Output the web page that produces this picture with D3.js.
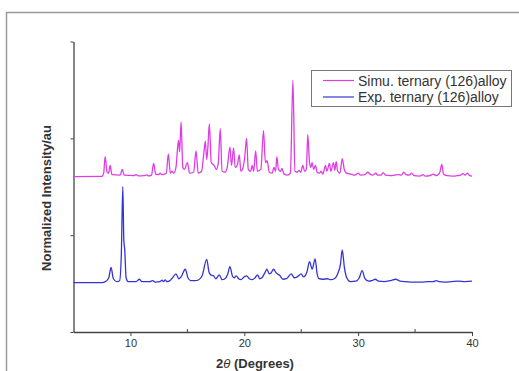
<!DOCTYPE html>
<html>
<head>
<meta charset="utf-8">
<script src="https://cdn.jsdelivr.net/npm/d3@7"></script>
<style>
  body { margin: 0; background: #fff; }
  #chart_id { width: 519px; height: 371px; }
  text { font-family: "Liberation Sans", Arial, sans-serif; fill: #333; }
</style>
</head>
<body>
<div id="chart_id"></div>
<script>
// series names
var seriesNames = ["Simu. ternary (126)alloy", "Exp. ternary (126)alloy"]
var seriesColors = ["#e03ce6", "#3434d4"]

// x tick labels
var xTicks = [10, 20, 30, 40]
var xMinorTicks = [15, 25, 35]
var yTicks = [0, 1, 2, 3]

// simulated pattern, [2theta, intensity]
var simuPattern = [[5,1.605],[7.5,1.607],[7.65,1.64],[7.78,1.81],[7.95,1.65],[8.08,1.64],[8.22,1.72],[8.38,1.625],[9.1,1.62],[9.28,1.68],[9.45,1.62],[10.3,1.615],[10.5,1.625],[10.7,1.612],[11.2,1.615],[11.4,1.622],[11.6,1.612],[11.85,1.62],[12.04,1.74],[12.22,1.63],[12.5,1.625],[12.6,1.64],[12.75,1.625],[13.15,1.64],[13.33,1.84],[13.5,1.64],[13.65,1.66],[13.8,1.64],[14.0,1.70],[14.22,1.98],[14.32,1.86],[14.45,2.17],[14.6,1.70],[14.75,1.68],[15.0,1.75],[15.2,1.64],[15.55,1.65],[15.76,1.87],[15.95,1.64],[16.25,1.66],[16.45,1.85],[16.58,1.97],[16.7,1.78],[16.8,1.90],[16.93,2.15],[17.1,1.75],[17.35,1.72],[17.55,1.68],[17.72,1.75],[17.89,2.10],[18.05,1.66],[18.3,1.65],[18.5,1.70],[18.74,1.91],[18.88,1.72],[19.06,1.90],[19.2,1.70],[19.38,1.72],[19.56,1.83],[19.7,1.66],[19.9,1.70],[20.05,1.82],[20.2,2.0],[20.35,1.68],[20.55,1.66],[20.7,1.72],[20.82,1.66],[21.0,1.87],[21.15,1.66],[21.45,1.68],[21.69,2.08],[21.85,1.75],[22.0,1.77],[22.2,1.65],[22.45,1.64],[22.6,1.70],[22.75,1.66],[22.86,1.81],[23.0,1.68],[23.2,1.66],[23.3,1.69],[23.5,1.63],[23.8,1.62],[24.05,1.64],[24.27,2.60],[24.45,1.66],[24.65,1.65],[24.8,1.67],[24.95,1.65],[25.14,1.72],[25.3,1.66],[25.45,1.68],[25.58,2.04],[25.72,1.76],[25.85,1.70],[25.95,1.75],[26.1,1.68],[26.25,1.72],[26.4,1.65],[26.6,1.64],[26.76,1.66],[26.9,1.63],[27.13,1.72],[27.25,1.66],[27.48,1.74],[27.6,1.66],[27.83,1.75],[27.95,1.67],[28.07,1.76],[28.2,1.66],[28.4,1.64],[28.6,1.79],[28.8,1.67],[29.0,1.64],[29.4,1.63],[29.7,1.62],[30.0,1.64],[30.2,1.62],[30.6,1.625],[30.85,1.65],[31.05,1.63],[31.3,1.62],[31.55,1.64],[31.7,1.62],[32.0,1.62],[32.2,1.645],[32.4,1.62],[32.8,1.615],[33.2,1.62],[33.5,1.625],[33.8,1.62],[34.0,1.65],[34.2,1.625],[34.5,1.62],[34.7,1.64],[34.9,1.615],[35.4,1.61],[35.7,1.625],[35.9,1.61],[36.3,1.615],[36.6,1.63],[36.85,1.615],[37.15,1.64],[37.35,1.73],[37.5,1.63],[37.8,1.615],[38.3,1.61],[38.7,1.615],[39.0,1.62],[39.2,1.635],[39.4,1.62],[39.6,1.64],[39.8,1.615],[40,1.61]]

// experimental pattern
var expPattern = [[5,0.51],[7.5,0.51],[7.8,0.52],[8.1,0.56],[8.3,0.668],[8.5,0.55],[8.8,0.52],[9.05,0.53],[9.2,0.8],[9.33,1.50],[9.42,0.95],[9.5,0.85],[9.62,0.56],[9.8,0.52],[10.5,0.52],[10.79,0.545],[11.0,0.52],[11.7,0.52],[11.96,0.53],[12.2,0.515],[12.6,0.52],[12.77,0.535],[12.9,0.52],[13.06,0.538],[13.2,0.52],[13.4,0.525],[13.7,0.56],[14.0,0.60],[14.25,0.55],[14.45,0.57],[14.82,0.648],[15.05,0.56],[15.3,0.53],[15.7,0.53],[16.0,0.54],[16.3,0.58],[16.7,0.75],[16.9,0.62],[17.05,0.59],[17.3,0.58],[17.5,0.55],[17.8,0.59],[18.05,0.54],[18.3,0.55],[18.55,0.6],[18.74,0.675],[18.95,0.58],[19.1,0.56],[19.3,0.58],[19.5,0.55],[19.7,0.54],[20.0,0.57],[20.2,0.58],[20.45,0.55],[20.7,0.54],[20.95,0.56],[21.17,0.59],[21.35,0.55],[21.55,0.56],[21.8,0.61],[21.98,0.648],[22.2,0.6],[22.35,0.61],[22.57,0.648],[22.8,0.61],[23.1,0.585],[23.4,0.545],[23.7,0.55],[24.12,0.60],[24.4,0.56],[24.65,0.57],[25.0,0.60],[25.2,0.57],[25.5,0.62],[25.73,0.726],[25.96,0.65],[26.22,0.754],[26.4,0.6],[26.55,0.55],[26.9,0.545],[27.3,0.55],[27.6,0.54],[27.9,0.55],[28.2,0.6],[28.45,0.7],[28.6,0.847],[28.8,0.66],[29.0,0.56],[29.3,0.52],[29.8,0.525],[30.1,0.56],[30.35,0.633],[30.6,0.55],[30.9,0.525],[31.2,0.53],[31.5,0.545],[31.8,0.525],[32.3,0.52],[32.8,0.53],[33.3,0.545],[33.7,0.525],[34.2,0.52],[34.8,0.515],[35.5,0.515],[36.2,0.52],[36.6,0.52],[36.85,0.53],[37.1,0.52],[37.6,0.515],[38.2,0.52],[38.8,0.525],[39.4,0.52],[40,0.525]]

var svg = d3.select("#chart_id").append("svg").attr("width", 519).attr("height", 371)

// outer frame of the figure
svg.append("rect").attr("x", 6.5).attr("y", 12.5).attr("width", 540).attr("height", 400)
    .attr("fill", "none").attr("stroke", "#9a9a9a").attr("stroke-width", 1.5)

var x = d3.scaleLinear().domain([5, 40]).range([73.5, 472])
var y = d3.scaleLinear().domain([0, 3]).range([332, 41.5])

// x axis: major ticks down, minor ticks up
var xAxis = svg.append("g").attr("transform", "translate(0,332)")
    .call(d3.axisBottom(x).tickValues(xTicks).tickSize(4).tickPadding(3).tickSizeOuter(0))
xAxis.select(".domain").attr("stroke", "#444").attr("stroke-width", 1.3)
xAxis.selectAll(".tick line").attr("stroke", "#444")
xAxis.selectAll("text").style("font-size", "11px").attr("fill", "#444")
xAxis.selectAll(".minor").data(xMinorTicks).enter().append("line")
    .attr("x1", d => x(d)).attr("x2", d => x(d)).attr("y1", 0).attr("y2", -3)
    .attr("stroke", "#444")

var yAxis = svg.append("g").attr("transform", "translate(73.5,0)")
    .call(d3.axisLeft(y).tickValues(yTicks).tickSize(3).tickFormat("").tickSizeOuter(0))
yAxis.select(".domain").attr("stroke", "#444").attr("stroke-width", 1.3)
yAxis.selectAll(".tick line").attr("stroke", "#444")

var line = d3.line().x(d => x(d[0])).y(d => y(d[1])).curve(d3.curveMonotoneX)

svg.append("path").datum(expPattern).attr("d", line)
    .attr("fill", "none").attr("stroke", seriesColors[1]).attr("stroke-width", 1.3)
svg.append("path").datum(simuPattern).attr("d", line)
    .attr("fill", "none").attr("stroke", seriesColors[0]).attr("stroke-width", 1.3)

// axis titles
svg.append("text").attr("x", 255).attr("y", 368).attr("text-anchor", "middle")
    .style("font-size", "13px").style("font-weight", "bold")
    .html('2<tspan style="font-style:italic;font-weight:normal">θ</tspan> (Degrees)')
svg.append("text").attr("transform", "translate(51,198) rotate(-90)").attr("text-anchor", "middle")
    .style("font-size", "13px").style("font-weight", "bold")
    .text("Normalized Intensity/au")

// legend
var legend = svg.append("g")
legend.append("rect").attr("x", 311.5).attr("y", 70.5).attr("width", 200).attr("height", 36)
    .attr("fill", "#fff").attr("stroke", "#777").attr("stroke-width", 1)
var items = legend.selectAll(".item").data(seriesNames).enter().append("g")
    .attr("transform", (d, i) => "translate(0," + (80.5 + i * 16.5) + ")")
items.append("line").attr("x1", 323).attr("x2", 354).attr("y1", 0).attr("y2", 0)
    .attr("stroke", (d, i) => seriesColors[i]).attr("stroke-width", 1.2)
items.append("text").attr("x", 358).attr("y", 5).style("font-size", "14px").attr("fill", "#222")
    .text(d => d)
</script>
</body>
</html>
